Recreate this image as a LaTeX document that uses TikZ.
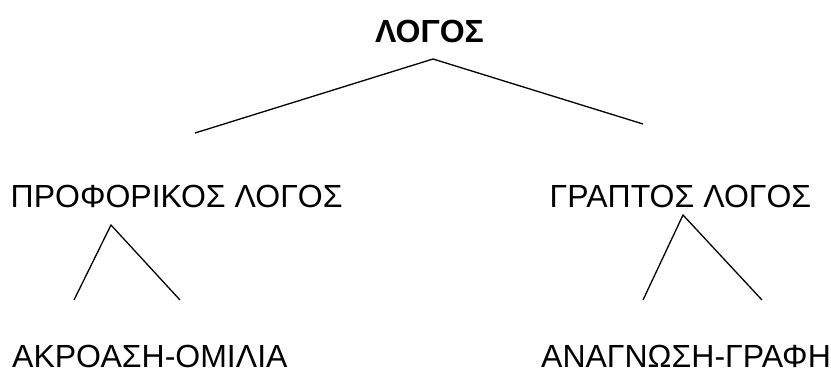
\documentclass[tikz,border=0pt]{standalone}
\usepackage{fontspec}
\setmainfont{Liberation Sans}
\usetikzlibrary{positioning}

\begin{document}
\begin{tikzpicture}[x=1pt,y=-1pt,
    word/.style={inner sep=0pt,font=\fontsize{32}{38}\selectfont},
    branch/.style={line width=1.3pt}]
    \useasboundingbox (0,0) rectangle (831,369);
    % words
    \node[word,anchor=base,font=\fontsize{32}{38}\selectfont\bfseries] (logos) at (429.5,43) {ΛΟΓΟΣ};
    \node[word,anchor=base west] (prof) at (10.5,207) {ΠΡΟΦΟΡΙΚΟΣ ΛΟΓΟΣ};
    \node[word,anchor=base west] (grapt) at (549.5,207) {ΓΡΑΠΤΟΣ ΛΟΓΟΣ};
    \node[word,anchor=base west] (akro) at (12,367) {ΑΚΡΟΑΣΗ-ΟΜΙΛΙΑ};
    \node[word,anchor=base west] (anag) at (541,367) {ΑΝΑΓΝΩΣΗ-ΓΡΑΦΗ};
    % branch points
    \coordinate (top) at (433,59);
    \coordinate (topL) at (195,133);
    \coordinate (topR) at (643,124);
    \coordinate (profT) at (111,225);
    \coordinate (profL) at (74,300);
    \coordinate (profR) at (180,300);
    \coordinate (graptT) at (683,215);
    \coordinate (graptL) at (643,300);
    \coordinate (graptR) at (762,300);
    \draw[branch] (topL) -- (top) -- (topR);
    \draw[branch] (profL) -- (profT) -- (profR);
    \draw[branch] (graptL) -- (graptT) -- (graptR);
\end{tikzpicture}
\end{document}
